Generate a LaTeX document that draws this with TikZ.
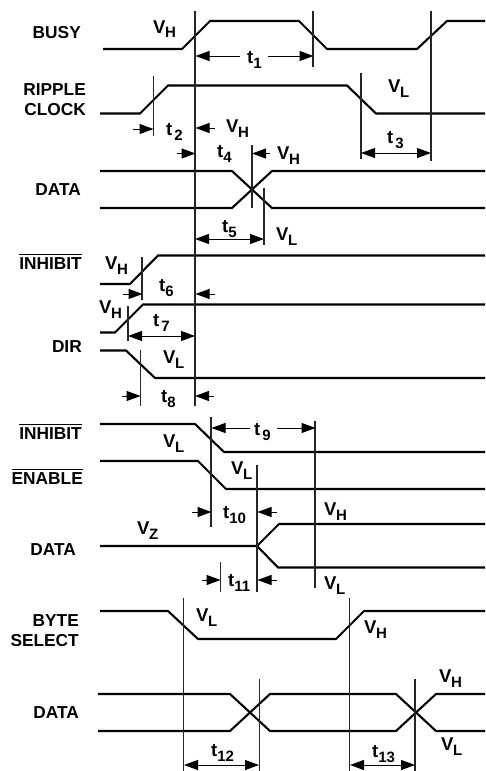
\documentclass[tikz,border=0pt]{standalone}
\usepackage{fontspec}
\setmainfont{Liberation Sans}
\usetikzlibrary{arrows.meta}
\newcommand{\ovl}[1]{\leavevmode\vbox{\hrule height 0.9pt \kern 2.2pt \hbox{#1}}}
\newcommand{\sbs}[1]{\raisebox{-5pt}{\fontsize{15}{16}\selectfont #1}}
\newcommand{\VH}{V\kern-0.5pt\sbs{H}}
\newcommand{\VL}{V\kern-0.5pt\sbs{L}}
\newcommand{\VZ}{V\kern-0.5pt\sbs{Z}}
\newcommand{\tm}[2][0pt]{t\kern#1\sbs{#2}}
\tikzset{
  x=1pt,y=-1pt,
  signal/.style={line width=2.1pt,line join=miter,black},
  marker/.style={line width=1.35pt,black!85},
  dimline/.style={line width=1pt,black,-{Triangle[length=14pt,width=10pt]},shorten >=-0.5pt},
  dimboth/.style={line width=1pt,black,{Triangle[length=14pt,width=10pt]}-{Triangle[length=14pt,width=10pt]}},
  sig/.style={anchor=base east,inner sep=0pt,font=\fontsize{17.3}{20}\selectfont\bfseries},
  val/.style={anchor=base west,inner sep=0pt,font=\fontsize{18.5}{20}\selectfont\bfseries},
}
\begin{document}
\begin{tikzpicture}
\useasboundingbox (0,0) rectangle (485,771);
\fill[white] (0,0) rectangle (485,771);

% signal names
\node[sig] (busy) at (81,38) {BUSY};
\node[sig] (ripple) at (86,95) {RIPPLE};
\node[sig] (clock) at (86,115) {CLOCK};
\node[sig] (data1) at (81,195) {DATA};
\node[sig] (inh1) at (82,269) {\ovl{INHIBIT}};
\node[sig] (dir) at (82,352) {DIR};
\node[sig] (inh2) at (82,439) {\ovl{INHIBIT}};
\node[sig] (ena) at (83,484) {\ovl{ENABLE}};
\node[sig] (data2) at (76,555) {DATA};
\node[sig] (byte) at (79,626) {BYTE};
\node[sig] (select) at (79,646) {SELECT};
\node[sig] (data3) at (79,718) {DATA};

% waveforms
\draw[signal] (103,49)--(182,49)--(210,21)--(299,21)--(327,49)--(417,49)--(447,21)--(485,21);
\draw[signal] (100,113.5)--(140,113.5)--(168,85.5)--(347,85.5)--(376,113.5)--(485,113.5);
\draw[signal] (100,171)--(232,171)--(272,208)--(485,208);
\draw[signal] (100,208)--(232,208)--(272,171)--(485,171);
\draw[signal] (100,284)--(130,284)--(158,255.5)--(485,255.5);
\draw[signal] (100,332.5)--(115,332.5)--(143,304.5)--(485,304.5);
\draw[signal] (100,350.5)--(126,350.5)--(155,378)--(485,378);
\draw[signal] (100,424)--(195,424)--(224,452)--(485,452);
\draw[signal] (100,461)--(198,461)--(226,489)--(485,489);
\draw[signal] (485,524)--(279,524)--(257,546)--(100,546);
\draw[signal] (257,546)--(278,567.5)--(485,567.5);
\draw[signal] (100,611)--(168,611)--(198,639)--(336,639)--(364,611)--(485,611);
\draw[signal] (98,694)--(230,694)--(270,731)--(396,731)--(436,694)--(485,694);
\draw[signal] (98,731)--(230,731)--(270,694)--(396,694)--(436,731)--(485,731);

% timing markers
\draw[marker] (195,11)--(195,406);
\draw[marker] (313,11)--(313,67);
\draw[marker] (431,11)--(431,161);
\draw[marker] (153.5,76)--(153.5,136);
\draw[marker] (361,73)--(361,159);
\draw[marker] (252,145)--(252,208);
\draw[marker] (264,188)--(264,245);
\draw[marker] (142,257)--(142,300);
\draw[marker] (128,306)--(128,341);
\draw[marker] (140.5,350)--(140.5,406);
\draw[marker] (211,417)--(211,527);
\draw[marker] (315,421)--(315,588);
\draw[marker] (257,465)--(257,592);
\draw[marker] (220.5,562)--(220.5,592);
\draw[marker] (183.5,598)--(183.5,771);
\draw[marker] (349.5,598)--(349.5,771);
\draw[marker] (259.5,679)--(259.5,771);
\draw[marker] (415,679)--(415,771);

% timing arrows
\draw[dimline] (240,56)--(196,56);
\draw[dimline] (268,56)--(313,56);
\draw[dimline] (133,129)--(153,129);
\draw[dimline] (215,128)--(196,128);
\draw[dimboth] (361,153)--(431,153);
\draw[dimline] (177,153.5)--(195,153.5);
\draw[dimline] (270,153.5)--(252.5,153.5);
\draw[dimboth] (195,239)--(264,239);
\draw[dimline] (123,294)--(142,294);
\draw[dimline] (215,294)--(196,294);
\draw[dimboth] (128,336)--(195,336);
\draw[dimline] (122,396)--(140,396);
\draw[dimline] (214,396)--(195.5,396);
\draw[dimline] (250,428)--(212,428);
\draw[dimline] (277,428)--(315,428);
\draw[dimline] (192,512)--(211,512);
\draw[dimline] (277,512)--(258,512);
\draw[dimline] (202,580)--(220,580);
\draw[dimline] (277,580)--(258,580);
\draw[dimboth] (184,765)--(259,765);
\draw[dimboth] (350,765)--(415,765);

% timing labels
\node[val] (t1) at (247,63) {\tm{1}};
\node[val] (t2) at (166,135) {\tm[2pt]{2}};
\node[val] (t3) at (387,143) {\tm[2pt]{3}};
\node[val] (t4) at (217,157) {\tm{4}};
\node[val] (t5) at (222,232) {\tm{5}};
\node[val] (t6) at (159,291) {\tm{6}};
\node[val] (t7) at (153,326) {\tm[2pt]{7}};
\node[val] (t8) at (161,402) {\tm{8}};
\node[val] (t9) at (254,435) {\tm[2pt]{9}};
\node[val] (t10) at (223,518) {\tm{10}};
\node[val] (t11) at (228,586) {\tm{11}};
\node[val] (t12) at (211,756) {\tm{12}};
\node[val] (t13) at (372,757) {\tm{13}};

% voltage labels
\node[val] (vh1) at (153,33) {\VH};
\node[val] (vh2) at (226,132) {\VH};
\node[val] (vh3) at (277,159) {\VH};
\node[val] (vl1) at (388,92) {\VL};
\node[val] (vl2) at (276,240) {\VL};
\node[val] (vh4) at (105,269) {\VH};
\node[val] (vh5) at (99,313) {\VH};
\node[val] (vl3) at (163,363) {\VL};
\node[val] (vl4) at (163,447) {\VL};
\node[val] (vl5) at (231,474) {\VL};
\node[val] (vh6) at (324,515) {\VH};
\node[val] (vz) at (137,534) {\VZ};
\node[val] (vl6) at (324,589) {\VL};
\node[val] (vl7) at (196,621) {\VL};
\node[val] (vh7) at (364,633) {\VH};
\node[val] (vh8) at (439,682) {\VH};
\node[val] (vl8) at (441,750) {\VL};
\end{tikzpicture}
\end{document}
